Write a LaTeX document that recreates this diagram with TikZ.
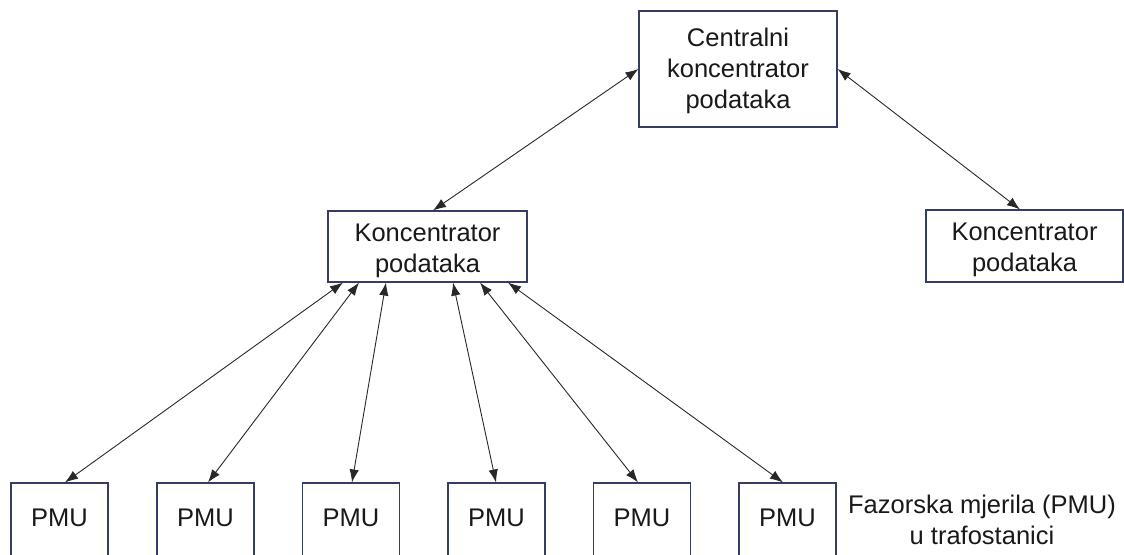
\documentclass[tikz,border=0pt]{standalone}
\usepackage{fontspec}
\setmainfont{Liberation Sans}
\usetikzlibrary{arrows.meta,calc}
\definecolor{boxline}{RGB}{55,60,100}
\definecolor{arrline}{RGB}{40,40,40}
\definecolor{txt}{RGB}{25,25,25}
\newcommand{\lowertext}[2]{\raisebox{-#1}[\height][\depth]{\begin{tabular}{@{}c@{}}#2\end{tabular}}}
\begin{document}
\begin{tikzpicture}[x=1pt,y=-1pt,
  box/.style={draw=boxline, line width=1.1pt, fill=white, inner sep=0pt, align=center,
    text=txt, font=\fontsize{25.5}{31}\selectfont},
  link/.style={draw=arrline, line width=0.9pt, {Latex[length=13pt,width=9.5pt]}-{Latex[length=13pt,width=9.5pt]}}]
\useasboundingbox (0,0) rectangle (1124,554);
\node[box, minimum width=198pt, minimum height=116pt] (central) at (738,69) {\lowertext{2pt}{Centralni\\koncentrator\\podataka}};
\node[box, minimum width=199pt, minimum height=71pt] (k1) at (427.5,246.5) {\lowertext{4pt}{Koncentrator\\podataka}};
\node[box, minimum width=197pt, minimum height=72pt] (k2) at (1024.5,246) {\lowertext{4pt}{Koncentrator\\podataka}};
\foreach \i/\x in {1/59.5,2/205.5,3/351,4/496.5,5/642,6/787.5}{
  \node[box, minimum width=97pt, minimum height=76pt] (p\i) at (\x,521) {\lowertext{-1pt}{PMU}};
}
\node[text=txt, align=center, font=\fontsize{25.5}{31}\selectfont] (lbl) at (982,520) {Fazorska mjerila (PMU)\\u trafostanici};
\draw[link] (central.west) -- ([xshift=5.5pt]k1.north);
\draw[link] (central.east) -- ([xshift=-4.5pt]k2.north);
\draw[link] ([xshift=-84.5pt]k1.south) -- ([xshift=5.5pt]p1.north);
\draw[link] ([xshift=-68.5pt]k1.south) -- ([xshift=2.5pt]p2.north);
\draw[link] ([xshift=-41.5pt]k1.south) -- ([xshift=1pt]p3.north);
\draw[link] ([xshift=25.5pt]k1.south) -- ([xshift=-0.5pt]p4.north);
\draw[link] ([xshift=52.5pt]k1.south) -- ([xshift=-4pt]p5.north);
\draw[link] ([xshift=80.5pt]k1.south) -- ([xshift=-4.5pt]p6.north);
\end{tikzpicture}
\end{document}
